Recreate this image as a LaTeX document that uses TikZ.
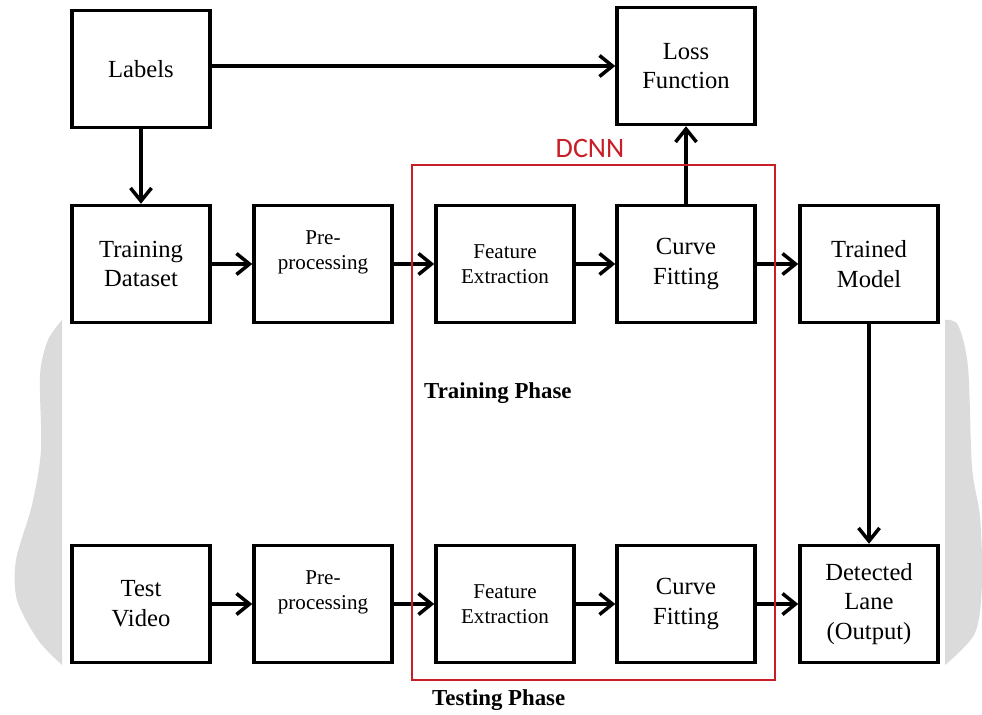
\documentclass[tikz,border=0pt]{standalone}
\usepackage{fontspec}
\setmainfont{Liberation Serif}
\newfontfamily\dcnnfont{Carlito}
\usepackage{xcolor}
\definecolor{dcnnred}{RGB}{200,30,40}
\usetikzlibrary{arrows.meta}

\begin{document}
\begin{tikzpicture}[x=0.02cm,y=-0.02cm,>={Straight Barb[length=2.6mm,width=4.2mm]},block/.style={draw,line width=0.07cm,minimum width=2.76cm,minimum height=2.34cm,inner sep=0pt,align=center,font=\fontsize{14}{17}\selectfont},small/.style={font=\fontsize{12}{14.5}\selectfont},upper/.style={text depth=16pt},flow/.style={->,line width=0.07cm},phase/.style={anchor=west,font=\bfseries\fontsize{13}{15}\selectfont},haze/.style={fill=black!14,draw=none}]
\useasboundingbox (0,0) rectangle (982,714);
% grey bands behind the two rows
\fill[haze] (62,320) -- plot[smooth] coordinates {(62,320) (48,340) (40,375) (41,450) (32,505) (16,560) (17,600) (38,640) (62,665)} -- cycle;
\fill[haze] (945,320) -- plot[smooth] coordinates {(945,320) (958,325) (968,367) (972,467) (980,517) (982,583) (975,633) (945,665)} -- cycle;
\node[block] (bLabels) at (141,69) {Labels};
\node[block] (bLoss) at (686,66) {Loss\\Function};
\node[block] (tData) at (141,264) {Training\\Dataset};
\node[block,small,upper] (tPre) at (323,264) {Pre-\\processing};
\node[block,small] (tFeat) at (505,264) {Feature\\Extraction};
\node[block] (tCurve) at (686,264) {Curve\\Fitting};
\node[block] (tModel) at (869,264) {Trained\\Model};
\node[block] (sVideo) at (141,604) {Test\\Video};
\node[block,small,upper] (sPre) at (323,604) {Pre-\\processing};
\node[block,small] (sFeat) at (505,604) {Feature\\Extraction};
\node[block] (sCurve) at (686,604) {Curve\\Fitting};
\node[block] (sLane) at (869,604) {Detected\\Lane\\(Output)};
\draw[flow] (bLabels.east |- bLoss.west) -- (bLoss.west);
\draw[flow] (bLabels) -- (tData);
\draw[flow] (tData) -- (tPre);
\draw[flow] (tPre) -- (tFeat);
\draw[flow] (tFeat) -- (tCurve);
\draw[flow] (tCurve) -- (tModel);
\draw[flow] (tCurve) -- (bLoss);
\draw[flow] (tModel) -- (sLane);
\draw[flow] (sVideo) -- (sPre);
\draw[flow] (sPre) -- (sFeat);
\draw[flow] (sFeat) -- (sCurve);
\draw[flow] (sCurve) -- (sLane);
\draw[dcnnred,line width=0.055cm] (412,165) rectangle (775,680);
\node[text=dcnnred,font=\dcnnfont\fontsize{16}{18}\selectfont] (lDCNN) at (590,148) {DCNN};
\node[phase] (lTrain) at (418,393) {Training Phase};
\node[phase] (lTest) at (426,700) {Testing Phase};
\end{tikzpicture}
\end{document}
